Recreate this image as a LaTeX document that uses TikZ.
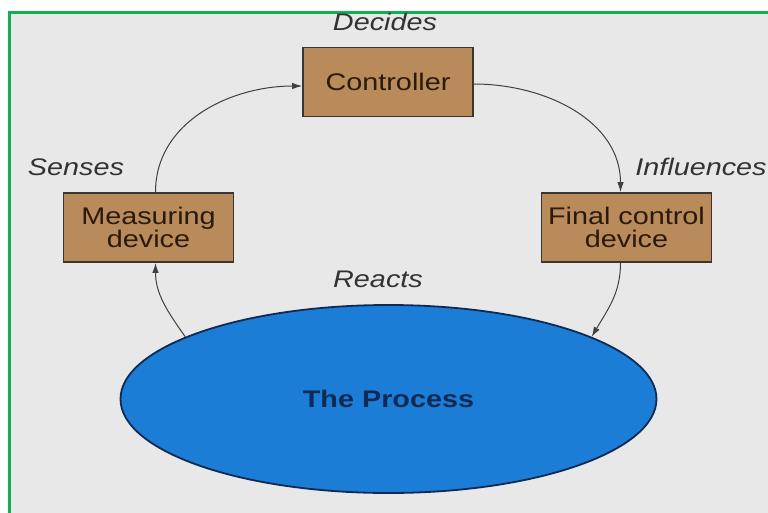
\documentclass[tikz,border=0pt]{standalone}
\usepackage{fontspec}
\setmainfont{Liberation Sans}
\newfontfamily\wf[FakeStretch=1.2]{Liberation Sans}
\usetikzlibrary{shapes.geometric,arrows.meta}
\definecolor{boxfill}{HTML}{B98A5A}
\definecolor{boxline}{HTML}{3A3530}
\definecolor{boxtext}{HTML}{2A1A0C}
\definecolor{procfill}{HTML}{1B7DD6}
\definecolor{procline}{HTML}{0E2A55}
\definecolor{bggray}{HTML}{E8E8E8}
\definecolor{frame}{HTML}{10B050}
\definecolor{lbl}{HTML}{333333}
\tikzset{
  stepbox/.style={draw=boxline, line width=1.8pt, fill=boxfill, align=center,
    inner sep=0pt, minimum width=170pt, minimum height=69pt,
    font=\wf\fontsize{24}{23.5}\selectfont, text=boxtext},
  lab/.style={font=\wf\fontsize{24}{23}\selectfont\itshape, text=lbl},
  flow/.style={draw=black!75, line width=1pt, -{Latex[length=10pt,width=6.5pt]}},
}
\begin{document}
\begin{tikzpicture}[x=1pt,y=-1pt]
\useasboundingbox (0,0) rectangle (768,512);
\fill[white] (0,0) rectangle (768,512);
\fill[bggray] (9,12) rectangle (770,515);
\draw[frame, line width=3pt] (9,12) rectangle (771,516);
\node[stepbox] (ctrl) at (388,82) {Controller};
\node[stepbox] (meas) at (148.5,227.5) {Measuring\\device};
\node[stepbox] (final) at (626.5,227.5) {Final control\\device};
\node[draw=procline, line width=1.8pt, fill=procfill, ellipse, inner sep=0pt,
  minimum width=536pt, minimum height=188pt,
  font=\wf\fontsize{24}{23}\selectfont\bfseries, text=procline] (proc) at (388.5,399) {The Process};
\node[lab] (decides) at (385,22) {Decides};
\node[lab] (senses) at (76,167) {Senses};
\node[lab] (infl) at (701,167) {Influences};
\node[lab] (reacts) at (378,279) {Reacts};
\draw[flow] ([xshift=7pt]meas.north) to[out=90,in=180] ([yshift=-4pt]ctrl.west);
\draw[flow] ([yshift=-2pt]ctrl.east) to[out=0,in=90] ([xshift=-6pt]final.north);
\draw[flow] ([xshift=-6pt]final.south) to[out=270,in=60] (proc.17);
\draw[flow] (proc.163) to[out=125,in=270] ([xshift=7pt]meas.south);
\end{tikzpicture}
\end{document}
